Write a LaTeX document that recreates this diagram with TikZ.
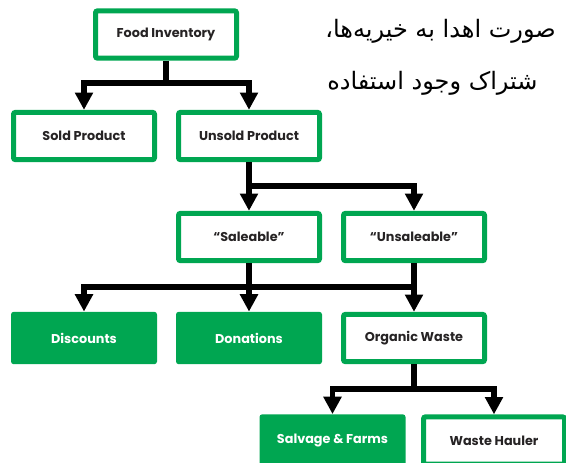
\documentclass[tikz,border=0pt]{standalone}
\usepackage{fontspec}
\setmainfont{Poppins}
\newfontfamily\farsifont[Script=Arabic]{DejaVu Sans}
\TeXXeTstate=1
\usepackage{xcolor}
\usepackage{tikz}
\usetikzlibrary{arrows.meta,positioning}
\definecolor{boxgreen}{HTML}{00A651}
\definecolor{boxtext}{HTML}{262324}

\begin{document}
\begin{tikzpicture}[x=0.75pt, y=-0.75pt,
        every node/.style={font=\bfseries\fontsize{9.6}{11}\selectfont},
        openbox/.style={draw=boxgreen, line width=3.75pt, fill=white, text=boxtext,
            minimum width=105.75pt, minimum height=35.5pt, inner sep=0pt, rounded corners=1.5pt},
        fullbox/.style={fill=boxgreen, text=white,
            minimum width=109.5pt, minimum height=39.25pt, inner sep=0pt, rounded corners=2pt},
        bus/.style={draw=black, line width=4pt},
        conn/.style={bus, -{Triangle[length=13pt, width=13pt]}},
        note/.style={font=\farsifont\fontsize{18}{22}\selectfont, anchor=west, inner sep=0pt}
    ]
    \useasboundingbox (0,0) rectangle (566,462);
    \clip (0,0) rectangle (566,462);

    % =============== boxes ===============
    \node[openbox] (food)       at (166,34.5)  {Food Inventory};
    \node[openbox] (sold)       at (84,136)    {Sold Product};
    \node[openbox] (unsold)     at (249,136)   {Unsold Product};
    \node[openbox] (saleable)   at (249,237)   {``Saleable''};
    \node[openbox] (unsaleable) at (414,237)   {``Unsaleable''};
    \node[fullbox] (discounts)  at (84,338)    {Discounts};
    \node[fullbox] (donations)  at (249,338)   {Donations};
    \node[openbox] (organic)    at (414,338)   {Organic Waste};
    \node[fullbox] (salvage)    at (332.5,440.5) {Salvage \& Farms};
    \node[openbox] (hauler)     at (494,440.5) {Waste Hauler};

    % =============== connectors ===============
    \coordinate (bus1) at (166,83);
    \coordinate (bus2) at (414,186);
    \coordinate (bus3) at (414,287);
    \coordinate (bus4) at (414,389);

    \draw[bus]  (food.south) -- (bus1);
    \draw[conn] (bus1) -| (sold.north);
    \draw[conn] (bus1) -| (unsold.north);

    \draw[conn] (unsold.south) -- (saleable.north);
    \draw[conn] (unsold.south) |- (bus2) -- (unsaleable.north);

    \draw[conn] (saleable.south) -- (donations.north);
    \draw[conn] (unsaleable.south) -- (organic.north);
    \draw[conn] (bus3) -| (discounts.north);

    \draw[bus]  (organic.south) -- (bus4);
    \draw[conn] (bus4) -| (salvage.north);
    \draw[conn] (bus4) -| (hauler.north);

    % =============== side text ===============
    \node[note] (persian1) at (325,31) {\beginR صورت اهدا به خیریه‌ها،\endR};
    \node[note] (persian2) at (327,83) {\beginR شتراک وجود  استفاده\endR};
\end{tikzpicture}
\end{document}
